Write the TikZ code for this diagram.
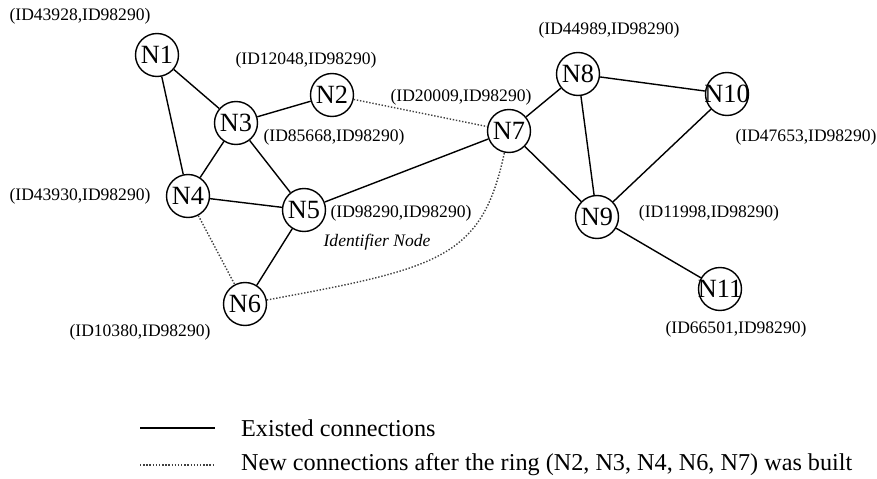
\documentclass[tikz,border=0pt]{standalone}
\usepackage{fontspec}
\setmainfont{Liberation Serif}
\tikzset{
  peer/.style={draw,circle,line width=0.8pt,minimum size=24.5pt,inner sep=-1.5pt,
    font=\fontsize{15}{15}\selectfont},
  idtag/.style={font=\fontsize{10}{12}\selectfont},
  link/.style={line width=0.8pt},
  newlink/.style={densely dotted,line width=0.8pt,black!75},
  legendtext/.style={anchor=west,font=\fontsize{13.8}{16}\selectfont},
}
\def\tagid#1{(ID#1,ID98290)}

\begin{document}
\begin{tikzpicture}[x=0.57pt,y=-0.57pt]
  \useasboundingbox (0,0) rectangle (877,479);

  \node[peer] (n1)  at (157,55)  {N1};
  \node[peer] (n2)  at (332,95)  {N2};
  \node[peer] (n3)  at (236,123) {N3};
  \node[peer] (n4)  at (188,196) {N4};
  \node[peer] (n5)  at (304,210) {N5};
  \node[peer] (n6)  at (245,304) {N6};
  \node[peer] (n7)  at (509,131) {N7};
  \node[peer] (n8)  at (578,74)  {N8};
  \node[peer] (n9)  at (597,217) {N9};
  \node[peer] (n10) at (727,94)  {N10};
  \node[peer] (n11) at (720,289) {N11};

  \node[idtag] (t1)  at (80,16)   {\tagid{43928}};
  \node[idtag] (t2)  at (306,60)  {\tagid{12048}};
  \node[idtag] (t3)  at (334,137) {\tagid{85668}};
  \node[idtag] (t4)  at (80,196)  {\tagid{43930}};
  \node[idtag] (t5)  at (401,213) {\tagid{98290}};
  \node[idtag,font=\fontsize{10}{12}\selectfont\itshape] (ident) at (377,242) {Identifier Node};
  \node[idtag] (t6)  at (140,332) {\tagid{10380}};
  \node[idtag] (t7)  at (461,97)  {\tagid{20009}};
  \node[idtag] (t8)  at (609,30)  {\tagid{44989}};
  \node[idtag] (t9)  at (709,213) {\tagid{11998}};
  \node[idtag] (t10) at (806,137) {\tagid{47653}};
  \node[idtag] (t11) at (736,329) {\tagid{66501}};

  \draw[link] (n1) -- (n3);
  \draw[link] (n1) -- (n4);
  \draw[link] (n3) -- (n2);
  \draw[link] (n3) -- (n4);
  \draw[link] (n3) -- (n5);
  \draw[link] (n4) -- (n5);
  \draw[link] (n5) -- (n6);
  \draw[link] (n5) -- (n7);
  \draw[link] (n7) -- (n8);
  \draw[link] (n7) -- (n9);
  \draw[link] (n8) -- (n9);
  \draw[link] (n8) -- (n10);
  \draw[link] (n10) -- (n9);
  \draw[link] (n9) -- (n11);

  \draw[newlink] (n2) -- (n7);
  \draw[newlink] (n4) -- (n6);
  \draw[newlink] (n6) .. controls (440,268) and (482,258) .. (n7);

  \coordinate (s1) at (140,428);
  \coordinate (s2) at (215,428);
  \coordinate (d1) at (140,465);
  \coordinate (d2) at (215,465);
  \draw[link] (s1) -- (s2);
  \draw[newlink] (d1) -- (d2);
  \node[legendtext] (lg1) at (235,428) {Existed connections};
  \node[legendtext] (lg2) at (235,465) {New connections after the ring (N2, N3, N4, N6, N7) was built};
\end{tikzpicture}
\end{document}
